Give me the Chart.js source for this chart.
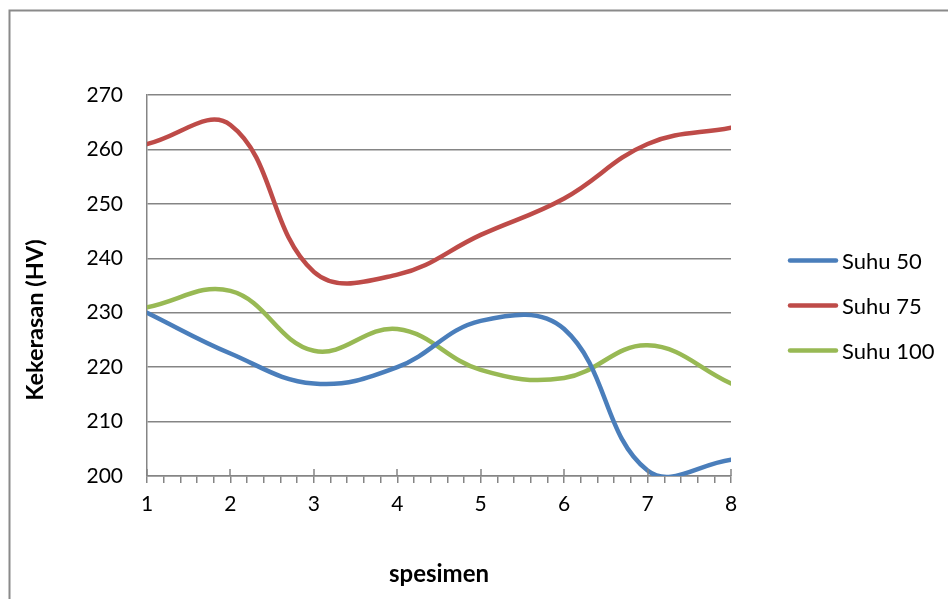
<!DOCTYPE html>
<html>
<head>
<meta charset="utf-8">
<script src="https://cdn.jsdelivr.net/npm/chart.js@4.4.1/dist/chart.umd.min.js"></script>
<style>
html,body{margin:0;padding:0;background:#fff;}
#wrap{position:relative;width:948px;height:599px;overflow:hidden;}
canvas{display:block;}
</style>
</head>
<body>
<div id="wrap"><canvas id="c" width="948" height="599"></canvas></div>
<script>
// ---- data ----
const specimens = [1, 2, 3, 4, 5, 6, 7, 8];
const suhu50  = [230, 222.5, 217, 220, 228.5, 227, 201, 203];
const suhu75  = [261, 264.5, 237.5, 237, 244.3, 251, 261, 264];
const suhu100 = [231, 234, 223, 227, 219.5, 218, 224, 217];
const seriesNames  = ['Suhu 50', 'Suhu 75', 'Suhu 100'];
const seriesColors = ['#4A7EBB', '#BE4B48', '#98B954'];
const yMin = 200, yMax = 270, yStep = 10;
const xMinorStep = 0.2;
const xTitle = 'spesimen';
const yTitle = 'Kekerasan (HV)';

const FONT = 'Lato, "Open Sans", sans-serif';
const GRID = '#858585';

function pts(vals) { return specimens.map((x, i) => ({x: x, y: vals[i]})); }

const frame = {
  id: 'frame',
  beforeDraw(chart) {
    const ctx = chart.ctx;
    ctx.save();
    ctx.fillStyle = '#fff';
    ctx.fillRect(0, 0, chart.width, chart.height);
    ctx.strokeStyle = '#8a8a8a';
    ctx.lineWidth = 2;
    ctx.strokeRect(9.5, 10.5, 2000, 2000);
    ctx.restore();
  }
};

const majorTicks = {
  id: 'majorTicks',
  afterDraw(chart) {
    const s = chart.scales.x;
    const ctx = chart.ctx;
    ctx.save();
    ctx.strokeStyle = GRID;
    ctx.lineWidth = 1.5;
    specimens.forEach(v => {
      const px = Math.round(s.getPixelForValue(v));
      ctx.beginPath();
      ctx.moveTo(px, s.top - 7);
      ctx.lineTo(px, s.top);
      ctx.stroke();
    });
    ctx.restore();
  }
};

const yAxisTitle = {
  id: 'yAxisTitle',
  afterDraw(chart) {
    const ctx = chart.ctx;
    ctx.save();
    ctx.translate(35, 320);
    ctx.rotate(-Math.PI / 2);
    ctx.font = 'bold 23.5px ' + FONT;
    ctx.fillStyle = '#000';
    ctx.textAlign = 'center';
    ctx.textBaseline = 'middle';
    ctx.fillText(yTitle, 0, 0);
    ctx.restore();
  }
};

const sideLegend = {
  id: 'sideLegend',
  afterDraw(chart) {
    const ctx = chart.ctx;
    const x0 = chart.chartArea.right + 57;
    const yc = (chart.chartArea.top + chart.chartArea.bottom) / 2;
    const gap = 45;
    ctx.save();
    ctx.font = '22px ' + FONT;
    ctx.textBaseline = 'middle';
    ctx.textAlign = 'left';
    chart.data.datasets.forEach((ds, i) => {
      const y = yc + (i - 1) * gap + 20;
      ctx.strokeStyle = ds.borderColor;
      ctx.lineWidth = 4.5;
      ctx.lineCap = 'round';
      ctx.beginPath();
      ctx.moveTo(x0 + 2, y);
      ctx.lineTo(x0 + 48, y);
      ctx.stroke();
      ctx.fillStyle = '#000';
      ctx.fillText(ds.label, x0 + 54, y + 1);
    });
    ctx.restore();
  }
};

new Chart(document.getElementById('c'), {
  type: 'line',
  data: {
    datasets: [suhu50, suhu75, suhu100].map((vals, i) => ({
      label: seriesNames[i],
      data: pts(vals),
      borderColor: seriesColors[i],
      backgroundColor: seriesColors[i],
      borderWidth: 4.5,
      pointRadius: 0,
      tension: 0.4,
      capBezierPoints: false,
      clip: {left: 0, right: 0, top: 5, bottom: 0},
      fill: false,
      borderCapStyle: 'round'
    }))
  },
  options: {
    responsive: false,
    animation: false,
    devicePixelRatio: 1,
    elements: {line: {capBezierPoints: false}},
    layout: {padding: {top: 95, right: 217, left: 0, bottom: 0}},
    plugins: {legend: {display: false}, tooltip: {enabled: false}},
    scales: {
      x: {
        type: 'linear',
        min: 1, max: 8,
        afterFit(s) { s.height = 123; },
        ticks: {
          stepSize: xMinorStep,
          autoSkip: false,
          maxRotation: 0,
          padding: 9,
          color: '#000',
          font: {family: FONT, size: 21},
          callback(v) {
            const r = Math.round(v);
            return Math.abs(v - r) < 1e-6 && specimens.includes(r) ? String(r) : '';
          }
        },
        grid: {display: true, drawOnChartArea: false, drawTicks: true, tickLength: 7, color: GRID, tickColor: GRID, lineWidth: 1.5},
        border: {display: true, color: GRID, width: 1.5},
        title: {display: true, text: xTitle, color: '#000', font: {family: FONT, size: 24, weight: 'bold'}, padding: {top: 0, bottom: 10}}
      },
      y: {
        min: yMin, max: yMax,
        afterFit(s) { s.width = 147; },
        ticks: {stepSize: yStep, padding: 24, color: '#000', font: {family: FONT, size: 21}},
        grid: {display: true, drawTicks: false, color: GRID, lineWidth: 1.5},
        border: {display: true, color: GRID, width: 1.5},
        title: {display: false}
      }
    }
  },
  plugins: [frame, majorTicks, yAxisTitle, sideLegend]
});
</script>
</body>
</html>
